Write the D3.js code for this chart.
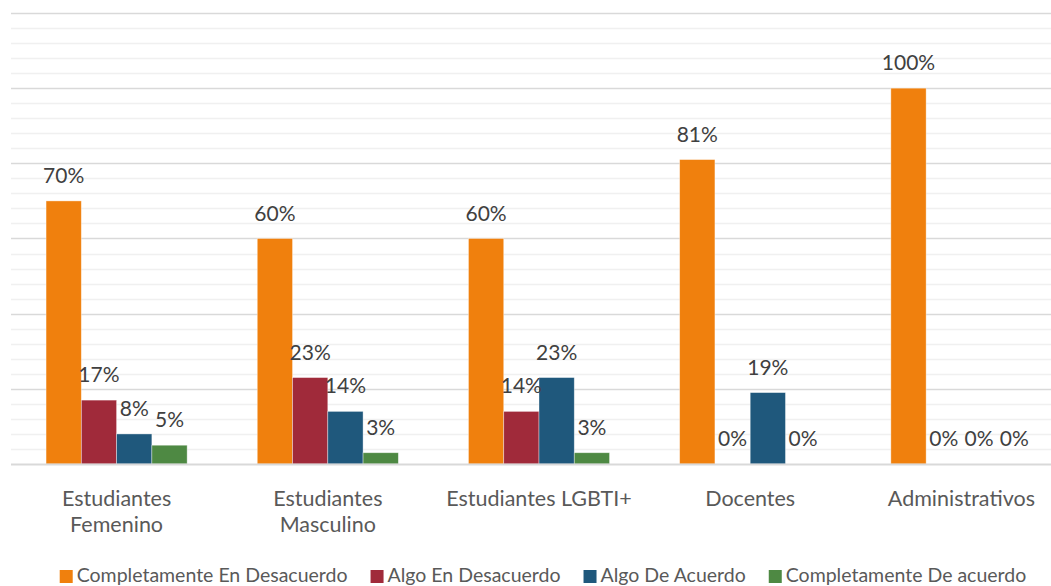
<!DOCTYPE html>
<html><head><meta charset="utf-8">
<script src="https://cdn.jsdelivr.net/npm/d3@7"></script>
<style>body{margin:0;background:#fff}svg{display:block}text{font-family:Lato,"Open Sans",sans-serif}</style>
</head><body>
<svg id="c" width="1051" height="586"></svg>
<script>
const categories = [["Estudiantes","Femenino"],["Estudiantes","Masculino"],["Estudiantes LGBTI+"],["Docentes"],["Administrativos"]];
const seriesNames = ["Completamente En Desacuerdo","Algo En Desacuerdo","Algo De Acuerdo","Completamente De acuerdo"];
const seriesColors = ["#F0800D","#A02A3A","#1F587C","#4E8943"];
const completamenteDesacuerdo = [0.70,0.60,0.60,0.81,1.00];
const algoDesacuerdo = [0.17,0.23,0.14,0.00,0.00];
const algoAcuerdo = [0.08,0.14,0.23,0.19,0.00];
const completamenteAcuerdo = [0.05,0.03,0.03,0.00,0.00];
const seriesValues = [completamenteDesacuerdo,algoDesacuerdo,algoAcuerdo,completamenteAcuerdo];
const valueLabels = [
  ["70%","60%","60%","81%","100%"],
  ["17%","23%","14%","0%","0%"],
  ["8%","14%","23%","19%","0%"],
  ["5%","3%","3%","0%","0%"]];

const svg = d3.select("#c");
const x0 = d3.scaleBand().domain(d3.range(categories.length)).range([11,1067]).paddingInner(0.332).paddingOuter(0.166);
const x1 = d3.scaleBand().domain(d3.range(seriesNames.length)).range([0,x0.bandwidth()]);
const y = d3.scaleLinear().domain([0,1.2]).range([464,13]);

// gridlines
const minor = d3.range(0,1.2001,0.04).filter(v=>Math.round(v*100)%20!==0);
const major = d3.range(0.2,1.2001,0.2);
svg.append("g").selectAll("line").data(minor).join("line")
  .attr("x1",11).attr("x2",1051).attr("y1",d=>Math.round(y(d))+0.5).attr("y2",d=>Math.round(y(d))+0.5)
  .attr("stroke","#f0f0f0").attr("stroke-width",1.5);
svg.append("g").selectAll("line").data(major).join("line")
  .attr("x1",11).attr("x2",1051).attr("y1",d=>Math.round(y(d))+0.5).attr("y2",d=>Math.round(y(d))+0.5)
  .attr("stroke","#d9d9d9").attr("stroke-width",1.5);

// bars
const g = svg.append("g");
seriesValues.forEach((vals,si)=>{
  g.append("g").selectAll("rect").data(vals).join("rect")
    .attr("x",(d,i)=>x0(i)+x1(si)).attr("width",x1.bandwidth())
    .attr("y",d=>y(d)).attr("height",d=>y(0)-y(d))
    .attr("fill",seriesColors[si]).attr("stroke","#fff").attr("stroke-opacity",0.5).attr("stroke-width",0.75);
});
// baseline
svg.append("line").attr("x1",11).attr("x2",1051).attr("y1",y(0)+0.5).attr("y2",y(0)+0.5)
  .attr("stroke","#d9d9d9").attr("stroke-width",2);

// value labels
seriesValues.forEach((vals,si)=>{
  g.append("g").selectAll("text").data(vals).join("text")
    .attr("x",(d,i)=>x0(i)+x1(si)+x1.bandwidth()/2)
    .attr("y",d=>y(d)-18)
    .attr("text-anchor","middle").attr("font-size",21).attr("fill","#404040")
    .text((d,i)=>valueLabels[si][i]);
});

// category labels
const cg = svg.append("g");
categories.forEach((lines,i)=>{
  const t = cg.append("text").attr("text-anchor","middle").attr("font-size",21.5).attr("fill","#595959");
  lines.forEach((l,k)=>t.append("tspan").attr("x",x0(i)+x0.bandwidth()/2).attr("y",506+k*26).text(l));
});

// legend
const lg = svg.append("g");
let lx = 0;
seriesNames.forEach((n,i)=>{
  const it = lg.append("g").attr("transform",`translate(${lx},0)`);
  it.append("rect").attr("x",0).attr("y",570).attr("width",13).attr("height",13).attr("fill",seriesColors[i]);
  const tt = it.append("text").attr("x",17).attr("y",582).attr("font-size",19.5).attr("fill","#595959").text(n);
  lx += 17 + tt.node().getComputedTextLength() + 23;
});
const totalW = lx - 23;
lg.attr("transform",`translate(${543 - totalW/2},0)`);
</script>
</body></html>
